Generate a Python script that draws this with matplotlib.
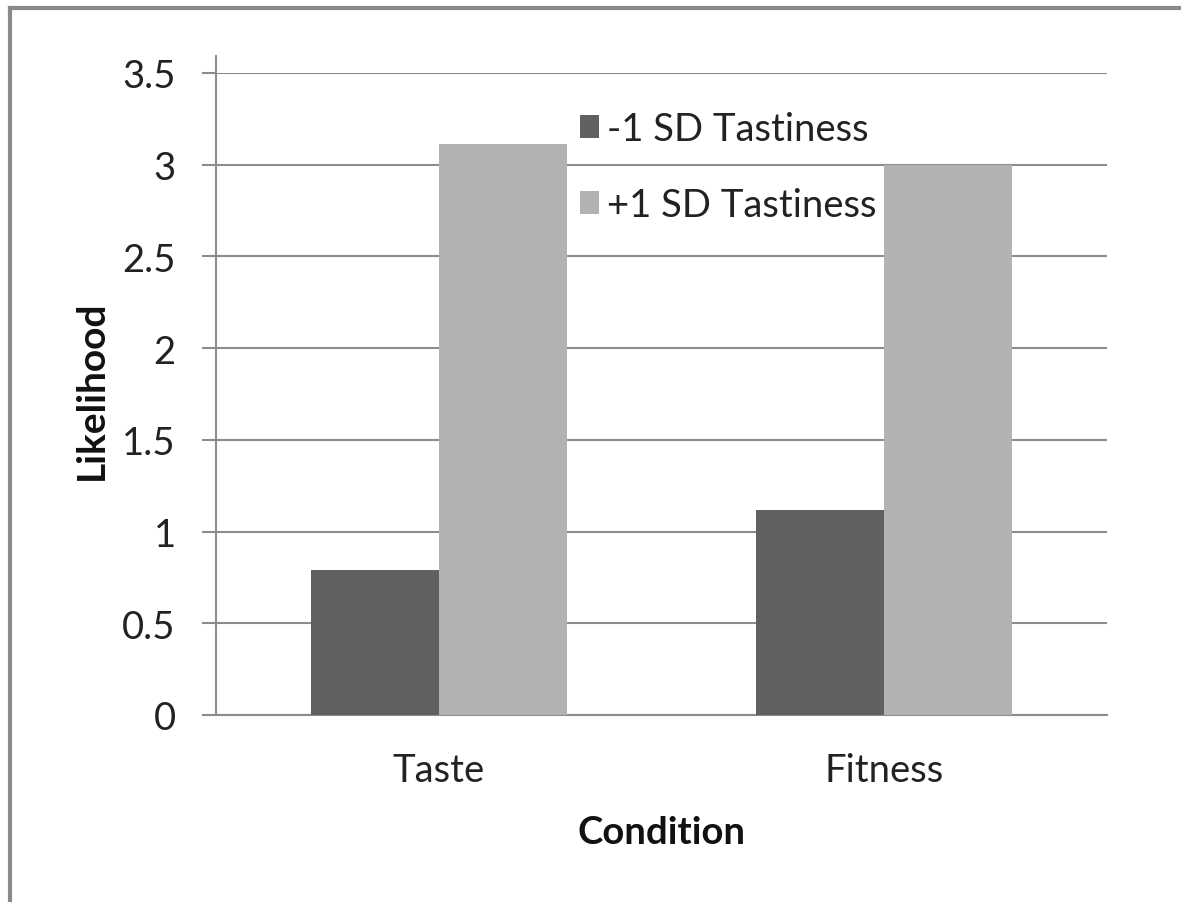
import matplotlib.pyplot as plt
from matplotlib.lines import Line2D
import numpy as np

plt.rcParams['font.family'] = ['Lato', 'DejaVu Sans']

conditions = ['Taste', 'Fitness']
low_taste = [0.79, 1.12]
high_taste = [3.11, 3.0]
series_names = ['-1 SD Tastiness', '+1 SD Tastiness']
yticks = [0, 0.5, 1, 1.5, 2, 2.5, 3, 3.5]
ytick_labels = ['0', '0.5', '1', '1.5', '2', '2.5', '3', '3.5']

dark = '#606060'
light = '#b2b2b2'
grid = '#8c8c8c'

fig = plt.figure(figsize=(11.81, 9.03), dpi=100)
ax = fig.add_axes([0.1829, 0.2071, 0.7544, 0.7110])

x = np.arange(len(conditions))
w = 0.2875
ax.bar(x - w / 2, low_taste, w, color=dark, label=series_names[0], zorder=3)
ax.bar(x + w / 2, high_taste, w, color=light, label=series_names[1], zorder=3)

ax.set_xlim(-0.5, 1.5)
ax.set_ylim(0, 3.5)
ax.set_yticks(yticks)
ax.set_yticklabels(ytick_labels)
ax.set_xticks(x)
ax.set_xticklabels(conditions)
ax.grid(axis='y', color=grid, linewidth=1.5, zorder=0)

for s in ['top', 'right']:
    ax.spines[s].set_visible(False)
for s in ['left', 'bottom']:
    ax.spines[s].set_color(grid)
    ax.spines[s].set_linewidth(1.5)
ax.spines['left'].set_bounds(0, 3.5 + 0.09)

ax.tick_params(axis='y', length=10, width=1.5, color=grid, pad=19,
               labelsize=27.5, labelcolor='#222222')
ax.tick_params(axis='x', length=0, pad=27, labelsize=27.5, labelcolor='#222222')

fig.text(0.0775, 0.568, 'Likelihood', rotation=90, ha='center', va='center',
         fontsize=28, fontweight='bold', color='#111111')
fig.text(0.5605, 0.0775, 'Condition', ha='center', va='center',
         fontsize=27.5, fontweight='bold', color='#111111')

ax.legend(loc='upper left', bbox_to_anchor=(0.370, 0.995), frameon=False,
          fontsize=27.5, handlelength=0.5, handleheight=0.55, handletextpad=0.2,
          labelspacing=1.05, labelcolor='#222222')

# outer frame, only the top and left edges are inside the image
fig.add_artist(Line2D([0.0085, 0.0085], [0.0, 0.9905], color='#8a8a8a', lw=3))
fig.add_artist(Line2D([0.0085, 1.0], [0.9905, 0.9905], color='#8a8a8a', lw=3))

fig.savefig('out.png', dpi=100, facecolor='white')
